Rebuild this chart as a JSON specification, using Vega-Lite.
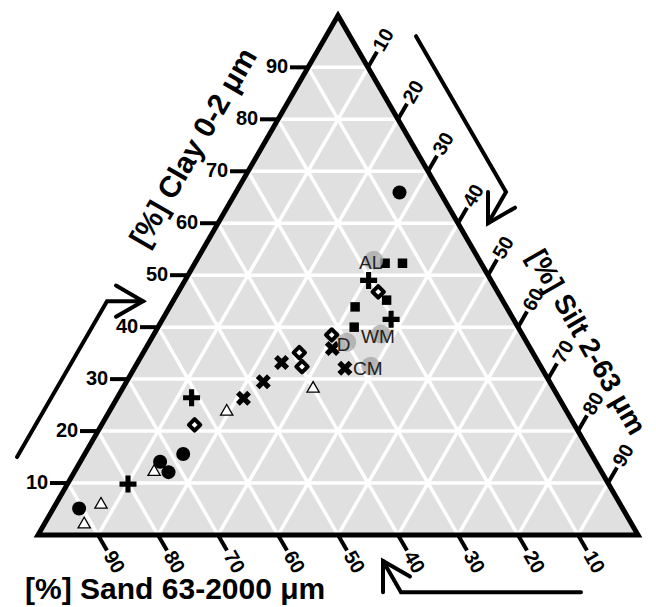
{
  "$schema": "https://vega.github.io/schema/vega-lite/v6.json",
  "width": 600,
  "height": 520,
  "padding": {"left": 38, "top": 15, "right": 18, "bottom": 72},
  "autosize": {"type": "none"},
  "background": "white",
  "config": {"view": {"stroke": null}},
  "datasets": {
    "frame": [
      {"i": 0, "clay": 0, "silt": 0},
      {"i": 1, "clay": 100, "silt": 0},
      {"i": 2, "clay": 0, "silt": 100},
      {"i": 3, "clay": 0, "silt": 0},
      {"i": 4, "clay": 100, "silt": 0}
    ],
    "scale": [
      {"axis": "clay", "v": 10}, {"axis": "clay", "v": 20}, {"axis": "clay", "v": 30}, {"axis": "clay", "v": 40}, {"axis": "clay", "v": 50}, {"axis": "clay", "v": 60}, {"axis": "clay", "v": 70}, {"axis": "clay", "v": 80}, {"axis": "clay", "v": 90},
      {"axis": "silt", "v": 10}, {"axis": "silt", "v": 20}, {"axis": "silt", "v": 30}, {"axis": "silt", "v": 40}, {"axis": "silt", "v": 50}, {"axis": "silt", "v": 60}, {"axis": "silt", "v": 70}, {"axis": "silt", "v": 80}, {"axis": "silt", "v": 90},
      {"axis": "sand", "v": 10}, {"axis": "sand", "v": 20}, {"axis": "sand", "v": 30}, {"axis": "sand", "v": 40}, {"axis": "sand", "v": 50}, {"axis": "sand", "v": 60}, {"axis": "sand", "v": 70}, {"axis": "sand", "v": 80}, {"axis": "sand", "v": 90}
    ],
    "samples": [
      {"type": "circle", "clay": 65.9, "silt": 27.3, "sand": 6.8},
      {"type": "circle", "clay": 5.1, "silt": 4.3, "sand": 90.6},
      {"type": "circle", "clay": 14.1, "silt": 13.3, "sand": 72.6},
      {"type": "circle", "clay": 12.1, "silt": 15.7, "sand": 72.2},
      {"type": "circle", "clay": 15.6, "silt": 16.4, "sand": 68.0},
      {"type": "triangle", "clay": 2.4, "silt": 6.5, "sand": 91.1},
      {"type": "triangle", "clay": 6.2, "silt": 7.4, "sand": 86.4},
      {"type": "triangle", "clay": 12.5, "silt": 13.1, "sand": 74.4},
      {"type": "triangle", "clay": 24.1, "silt": 19.4, "sand": 56.5},
      {"type": "triangle", "clay": 28.5, "silt": 31.6, "sand": 39.9},
      {"type": "plus", "clay": 9.8, "silt": 10.1, "sand": 80.1},
      {"type": "plus", "clay": 26.4, "silt": 12.4, "sand": 61.2},
      {"type": "plus", "clay": 49.0, "silt": 30.6, "sand": 20.4},
      {"type": "plus", "clay": 41.5, "silt": 38.1, "sand": 20.4},
      {"type": "diamond", "clay": 21.2, "silt": 15.5, "sand": 63.3},
      {"type": "diamond", "clay": 35.1, "silt": 26.0, "sand": 38.9},
      {"type": "diamond", "clay": 32.4, "silt": 27.8, "sand": 39.8},
      {"type": "diamond", "clay": 38.5, "silt": 29.7, "sand": 31.8},
      {"type": "diamond", "clay": 46.8, "silt": 33.3, "sand": 19.9},
      {"type": "x", "clay": 26.3, "silt": 21.1, "sand": 52.6},
      {"type": "x", "clay": 29.5, "silt": 22.8, "sand": 47.7},
      {"type": "x", "clay": 33.2, "silt": 24.0, "sand": 42.8},
      {"type": "x", "clay": 35.9, "silt": 31.1, "sand": 33.0},
      {"type": "x", "clay": 32.1, "silt": 35.1, "sand": 32.8},
      {"type": "square", "clay": 52.3, "silt": 31.7, "sand": 16.0},
      {"type": "square", "clay": 52.3, "silt": 34.6, "sand": 13.1},
      {"type": "square", "clay": 45.2, "silt": 35.5, "sand": 19.3},
      {"type": "square", "clay": 43.9, "silt": 30.9, "sand": 25.2},
      {"type": "square", "clay": 40.0, "silt": 32.7, "sand": 27.3}
    ],
    "refs": [
      {"label": "AL", "clay": 52.9, "silt": 29.5},
      {"label": "WM", "clay": 38.7, "silt": 37.8},
      {"label": "D", "clay": 37.1, "silt": 32.9},
      {"label": "CM", "clay": 32.5, "silt": 39.2}
    ],
    "arrows": [
      {"seg": "L-s", "i": 0, "clay": 15, "silt": -11},
      {"seg": "L-s", "i": 1, "clay": 45, "silt": -11},
      {"seg": "L-s", "i": 2, "clay": 45, "silt": -5},
      {"seg": "L-h", "i": 0, "clay": 48, "silt": -11},
      {"seg": "L-h", "i": 1, "clay": 45, "silt": -5},
      {"seg": "L-h", "i": 2, "clay": 42, "silt": -8},
      {"seg": "R-s", "i": 0, "clay": 96, "silt": 15},
      {"seg": "R-s", "i": 1, "clay": 66, "silt": 45},
      {"seg": "R-s", "i": 2, "clay": 60, "silt": 45},
      {"seg": "R-h", "i": 0, "clay": 63, "silt": 48},
      {"seg": "R-h", "i": 1, "clay": 60, "silt": 45},
      {"seg": "R-h", "i": 2, "clay": 66, "silt": 42},
      {"seg": "B-s", "i": 0, "clay": -11, "silt": 96},
      {"seg": "B-s", "i": 1, "clay": -11, "silt": 66},
      {"seg": "B-s", "i": 2, "clay": -5, "silt": 60},
      {"seg": "B-h", "i": 0, "clay": -11, "silt": 63},
      {"seg": "B-h", "i": 1, "clay": -5, "silt": 60},
      {"seg": "B-h", "i": 2, "clay": -8, "silt": 66}
    ],
    "titles": [
      {"axis": "clay", "title": "[%] Clay 0-2 μm", "clay": 74.5, "silt": -11.2},
      {"axis": "silt", "title": "[%] Silt 2-63 μm", "clay": 37.0, "silt": 72.8},
      {"axis": "sand", "title": "[%] Sand 63-2000 μm", "clay": -12.3, "silt": 4.0}
    ]
  },
  "encoding": {
    "x": {"field": "x", "type": "quantitative", "scale": {"domain": [0, 100], "nice": false, "zero": false}, "axis": null},
    "y": {"field": "y", "type": "quantitative", "scale": {"domain": [0, 86.6667], "nice": false, "zero": false}, "axis": null}
  },
  "layer": [
    {
      "data": {"name": "frame"},
      "transform": [
        {"filter": "datum.i < 3"},
        {"calculate": "datum.silt + datum.clay / 2", "as": "x"},
        {"calculate": "datum.clay * 0.8660254", "as": "y"}
      ],
      "mark": {"type": "area", "color": "#e0e0e0", "opacity": 1}
    },
    {
      "data": {"name": "scale"},
      "transform": [
        {"calculate": "datum.axis === 'clay' ? datum.v / 2 : datum.axis === 'silt' ? datum.v : 100 - datum.v", "as": "x"},
        {"calculate": "datum.axis === 'clay' ? datum.v * 0.8660254 : 0", "as": "y"},
        {"calculate": "datum.axis === 'clay' ? 100 - datum.v / 2 : datum.axis === 'silt' ? 50 + datum.v / 2 : (100 - datum.v) / 2", "as": "x2"},
        {"calculate": "datum.axis === 'clay' ? datum.v * 0.8660254 : (100 - datum.v) * 0.8660254", "as": "y2"}
      ],
      "mark": {"type": "rule", "color": "white", "strokeWidth": 3.5},
      "encoding": {"x2": {"field": "x2"}, "y2": {"field": "y2"}}
    },
    {
      "data": {"name": "frame"},
      "transform": [
        {"calculate": "datum.silt + datum.clay / 2", "as": "x"},
        {"calculate": "datum.clay * 0.8660254", "as": "y"}
      ],
      "mark": {"type": "line", "color": "black", "strokeWidth": 5, "strokeJoin": "miter", "strokeMiterLimit": 10},
      "encoding": {"order": {"field": "i", "type": "quantitative"}}
    },
    {
      "data": {"name": "scale"},
      "transform": [
        {"calculate": "datum.axis === 'clay' ? datum.v / 2 : datum.axis === 'silt' ? 50 + datum.v / 2 : 100 - datum.v", "as": "x"},
        {"calculate": "datum.axis === 'clay' ? datum.v * 0.8660254 : datum.axis === 'silt' ? (100 - datum.v) * 0.8660254 : 0", "as": "y"},
        {"calculate": "datum.axis === 'clay' ? datum.x - 3 : datum.x + 1.5", "as": "x2"},
        {"calculate": "datum.axis === 'clay' ? datum.y : datum.axis === 'silt' ? datum.y + 2.598 : -2.598", "as": "y2"}
      ],
      "mark": {"type": "rule", "color": "black", "strokeWidth": 4},
      "encoding": {"x2": {"field": "x2"}, "y2": {"field": "y2"}}
    },
    {
      "data": {"name": "scale"},
      "transform": [
        {"filter": "datum.axis === 'clay'"},
        {"calculate": "datum.v / 2 - 3.3", "as": "x"},
        {"calculate": "datum.v * 0.8660254", "as": "y"}
      ],
      "mark": {"type": "text", "align": "right", "baseline": "middle", "font": "Liberation Sans, Arial, sans-serif", "fontWeight": "bold", "fontSize": 20, "color": "black"},
      "encoding": {"text": {"field": "v", "type": "nominal"}}
    },
    {
      "data": {"name": "scale"},
      "transform": [
        {"filter": "datum.axis === 'silt'"},
        {"calculate": "50 + datum.v / 2 + 1.7", "as": "x"},
        {"calculate": "(100 - datum.v) * 0.8660254 + 2.944", "as": "y"}
      ],
      "mark": {"type": "text", "align": "left", "baseline": "middle", "angle": 300, "font": "Liberation Sans, Arial, sans-serif", "fontWeight": "bold", "fontSize": 20, "color": "black"},
      "encoding": {"text": {"field": "v", "type": "nominal"}}
    },
    {
      "data": {"name": "scale"},
      "transform": [
        {"filter": "datum.axis === 'sand'"},
        {"calculate": "100 - datum.v + 1.7", "as": "x"},
        {"calculate": "-2.944", "as": "y"}
      ],
      "mark": {"type": "text", "align": "left", "baseline": "middle", "angle": 60, "font": "Liberation Sans, Arial, sans-serif", "fontWeight": "bold", "fontSize": 20, "color": "black"},
      "encoding": {"text": {"field": "v", "type": "nominal"}}
    },
    {
      "data": {"name": "samples"},
      "transform": [
        {"filter": "datum.type === 'triangle'"},
        {"calculate": "datum.silt + datum.clay / 2", "as": "x"},
        {"calculate": "datum.clay * 0.8660254", "as": "y"}
      ],
      "mark": {"type": "point", "shape": "triangle-up", "filled": true, "fill": "white", "stroke": "black", "strokeWidth": 1.3, "size": 150, "opacity": 1}
    },
    {
      "data": {"name": "samples"},
      "transform": [
        {"filter": "datum.type === 'circle'"},
        {"calculate": "datum.silt + datum.clay / 2", "as": "x"},
        {"calculate": "datum.clay * 0.8660254", "as": "y"}
      ],
      "mark": {"type": "point", "shape": "circle", "filled": true, "color": "black", "size": 196, "opacity": 1}
    },
    {
      "data": {"name": "samples"},
      "transform": [
        {"filter": "datum.type === 'plus'"},
        {"calculate": "datum.silt + datum.clay / 2", "as": "x"},
        {"calculate": "datum.clay * 0.8660254", "as": "y"}
      ],
      "mark": {"type": "point", "shape": "M-0.3,-1L0.3,-1L0.3,-0.3L1,-0.3L1,0.3L0.3,0.3L0.3,1L-0.3,1L-0.3,0.3L-1,0.3L-1,-0.3L-0.3,-0.3Z", "filled": true, "color": "black", "size": 289, "opacity": 1}
    },
    {
      "data": {"name": "samples"},
      "transform": [
        {"filter": "datum.type === 'x'"},
        {"calculate": "datum.silt + datum.clay / 2", "as": "x"},
        {"calculate": "datum.clay * 0.8660254", "as": "y"}
      ],
      "mark": {"type": "point", "shape": "M-1,-0.5L-0.5,-1L0,-0.5L0.5,-1L1,-0.5L0.5,0L1,0.5L0.5,1L0,0.5L-0.5,1L-1,0.5L-0.5,0Z", "filled": true, "color": "black", "size": 225, "opacity": 1}
    },
    {
      "data": {"name": "samples"},
      "transform": [
        {"filter": "datum.type === 'square'"},
        {"calculate": "datum.silt + datum.clay / 2", "as": "x"},
        {"calculate": "datum.clay * 0.8660254", "as": "y"}
      ],
      "mark": {"type": "point", "shape": "square", "filled": true, "color": "black", "size": 90, "opacity": 1}
    },
    {
      "data": {"name": "samples"},
      "transform": [
        {"filter": "datum.type === 'diamond'"},
        {"calculate": "datum.silt + datum.clay / 2", "as": "x"},
        {"calculate": "datum.clay * 0.8660254", "as": "y"}
      ],
      "mark": {"type": "point", "shape": "diamond", "filled": true, "fill": "white", "stroke": "black", "strokeWidth": 4, "strokeJoin": "round", "size": 130, "opacity": 1}
    },
    {
      "data": {"name": "refs"},
      "transform": [
        {"calculate": "datum.silt + datum.clay / 2", "as": "x"},
        {"calculate": "datum.clay * 0.8660254", "as": "y"}
      ],
      "mark": {"type": "circle", "color": "#a6a6a6", "opacity": 0.75, "size": 360}
    },
    {
      "data": {"name": "refs"},
      "transform": [
        {"calculate": "datum.silt + datum.clay / 2", "as": "x"},
        {"calculate": "datum.clay * 0.8660254", "as": "y"}
      ],
      "mark": {"type": "text", "align": "center", "baseline": "middle", "dx": -3, "dy": 3, "font": "Liberation Sans, Arial, sans-serif", "fontSize": 19, "color": "#222222"},
      "encoding": {"text": {"field": "label", "type": "nominal"}}
    },
    {
      "data": {"name": "arrows"},
      "transform": [
        {"calculate": "datum.silt + datum.clay / 2", "as": "x"},
        {"calculate": "datum.clay * 0.8660254", "as": "y"}
      ],
      "mark": {"type": "line", "color": "black", "strokeWidth": 4, "strokeJoin": "miter", "strokeCap": "round"},
      "encoding": {"detail": {"field": "seg", "type": "nominal"}, "order": {"field": "i", "type": "quantitative"}}
    },
    {
      "data": {"name": "titles"},
      "transform": [
        {"filter": "datum.axis === 'clay'"},
        {"calculate": "datum.silt + datum.clay / 2", "as": "x"},
        {"calculate": "datum.clay * 0.8660254", "as": "y"}
      ],
      "mark": {"type": "text", "align": "center", "baseline": "middle", "angle": 300, "font": "Liberation Sans, Arial, sans-serif", "fontWeight": "bold", "fontSize": 30, "color": "black"},
      "encoding": {"text": {"field": "title", "type": "nominal"}}
    },
    {
      "data": {"name": "titles"},
      "transform": [
        {"filter": "datum.axis === 'silt'"},
        {"calculate": "datum.silt + datum.clay / 2", "as": "x"},
        {"calculate": "datum.clay * 0.8660254", "as": "y"}
      ],
      "mark": {"type": "text", "align": "center", "baseline": "middle", "angle": 60, "font": "Liberation Sans, Arial, sans-serif", "fontWeight": "bold", "fontSize": 28, "color": "black"},
      "encoding": {"text": {"field": "title", "type": "nominal"}}
    },
    {
      "data": {"name": "titles"},
      "transform": [
        {"filter": "datum.axis === 'sand'"},
        {"calculate": "datum.silt + datum.clay / 2", "as": "x"},
        {"calculate": "datum.clay * 0.8660254", "as": "y"}
      ],
      "mark": {"type": "text", "align": "left", "baseline": "alphabetic", "font": "Liberation Sans, Arial, sans-serif", "fontWeight": "bold", "fontSize": 30, "color": "black"},
      "encoding": {"text": {"field": "title", "type": "nominal"}}
    }
  ]
}
